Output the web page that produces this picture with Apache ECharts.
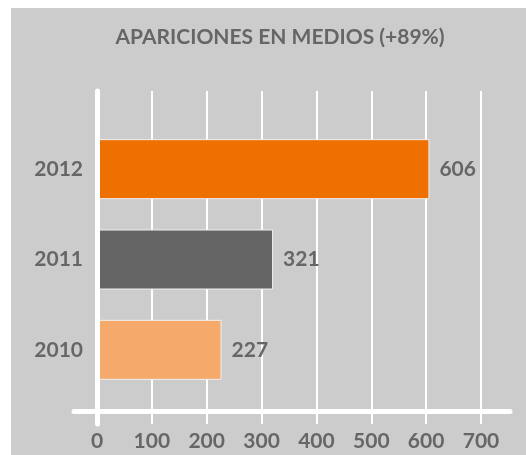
<!DOCTYPE html>
<html>
<head>
<meta charset="utf-8">
<script src="https://cdn.jsdelivr.net/npm/echarts@6/dist/echarts.min.js"></script>
<style>
  html, body { margin: 0; padding: 0; background: #ffffff; }
  #main { position: absolute; left: 11px; top: 8px; width: 515px; height: 447px; }
</style>
</head>
<body>
<div id="main"></div>
<script>
// datos
const years = ['2010', '2011', '2012']
const apariciones = [227, 321, 606]
const barColors = ['#F5A96B', '#656565', '#ED7000']
const xTicks = [0, 100, 200, 300, 400, 500, 600, 700]

const chart = echarts.init(document.getElementById('main'))
const labelFont = { fontFamily: 'Lato', fontWeight: 'bold', fontSize: 21, color: '#666666' }

chart.setOption({
  backgroundColor: '#cccccc',
  animation: false,
  title: {
    text: 'APARICIONES EN MEDIOS (+89%)',
    left: 264,
    top: 14,
    textAlign: 'center',
    textStyle: { fontFamily: 'Lato', fontWeight: 'bold', fontSize: 21, color: '#666666' }
  },
  grid: [
    // bars
    { left: 86, right: 45, top: 116, bottom: 60 },
    // gridlines + x labels
    { left: 86, right: 45, top: 83, bottom: 44 },
    // long horizontal axis line
    { left: 63, right: 16, top: 83, bottom: 44 },
    // thick vertical axis line
    { left: 86, right: 45, top: 83, bottom: 31 }
  ],
  xAxis: [
    { gridIndex: 0, type: 'value', min: 0, max: 700, interval: 100, show: false },
    {
      gridIndex: 1, type: 'value', min: 0, max: 700, interval: 100,
      axisLine: { show: false },
      axisTick: { show: true, length: 13, lineStyle: { color: '#ffffff', width: 2 } },
      splitLine: { show: true, lineStyle: { color: '#ffffff', width: 2 } },
      axisLabel: Object.assign({ margin: 20, customValues: xTicks }, labelFont)
    },
    {
      gridIndex: 2, type: 'value', min: 0, max: 1, z: 5,
      axisLine: { show: true, lineStyle: { color: '#ffffff', width: 5 } },
      axisTick: { show: false }, splitLine: { show: false }, axisLabel: { show: false }
    },
    { gridIndex: 3, type: 'value', show: false }
  ],
  yAxis: [
    {
      gridIndex: 0, type: 'category', data: years,
      axisLine: { show: false }, axisTick: { show: false },
      axisLabel: Object.assign({ margin: 14 }, labelFont)
    },
    { gridIndex: 1, type: 'value', show: false },
    { gridIndex: 2, type: 'value', show: false },
    {
      gridIndex: 3, type: 'value', z: 6,
      axisLine: { show: true, lineStyle: { color: '#ffffff', width: 5 } },
      axisTick: { show: false }, splitLine: { show: false }, axisLabel: { show: false }
    }
  ],
  series: [
    {
      type: 'bar',
      xAxisIndex: 0,
      yAxisIndex: 0,
      barWidth: 60,
      z: 3,
      data: apariciones.map((v, i) => ({
        value: v,
        itemStyle: { color: barColors[i], borderColor: '#f0f0f0', borderWidth: 1 }
      })),
      label: Object.assign({ show: true, position: 'right', distance: 10 }, labelFont)
    }
  ]
})
</script>
</body>
</html>
